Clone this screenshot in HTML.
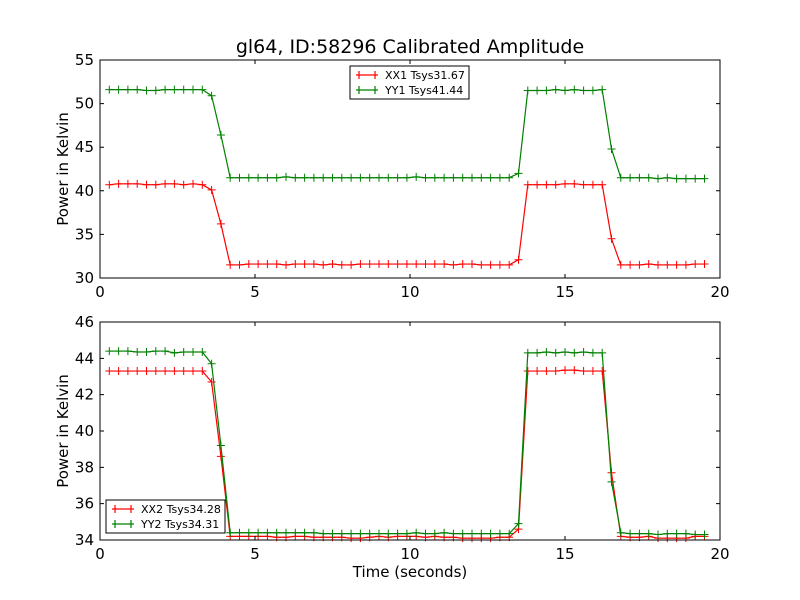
<!DOCTYPE html>
<html><head><meta charset="utf-8"><style>
body{margin:0;background:#fff;}
svg{display:block;font-family:"DejaVu Sans","Liberation Sans",sans-serif;}
</style></head><body>
<svg id="chart" width="800" height="600"></svg>
<script>
const times=[0.3,0.6,0.9,1.2,1.5,1.8,2.1,2.4,2.7,3.0,3.3,3.6,3.9,4.2,4.5,4.8,5.1,5.4,5.7,6.0,6.3,6.6,6.9,7.2,7.5,7.8,8.1,8.4,8.7,9.0,9.3,9.6,9.9,10.2,10.5,10.8,11.1,11.4,11.7,12.0,12.3,12.6,12.9,13.2,13.5,13.8,14.1,14.4,14.7,15.0,15.3,15.6,15.9,16.2,16.5,16.8,17.1,17.4,17.7,18.0,18.3,18.6,18.9,19.2,19.5];
const xx1=[40.7,40.8,40.8,40.8,40.7,40.7,40.8,40.8,40.7,40.8,40.7,40.1,36.2,31.5,31.5,31.6,31.6,31.6,31.6,31.5,31.6,31.6,31.6,31.5,31.6,31.5,31.5,31.6,31.6,31.6,31.6,31.6,31.6,31.6,31.6,31.6,31.6,31.5,31.6,31.6,31.5,31.5,31.5,31.5,32.1,40.7,40.7,40.7,40.7,40.8,40.8,40.7,40.7,40.7,34.5,31.5,31.5,31.5,31.6,31.5,31.5,31.5,31.5,31.6,31.6];
const yy1=[51.6,51.6,51.6,51.6,51.5,51.5,51.6,51.6,51.6,51.6,51.6,50.9,46.4,41.5,41.5,41.5,41.5,41.5,41.5,41.6,41.5,41.5,41.5,41.5,41.5,41.5,41.5,41.5,41.5,41.5,41.5,41.5,41.5,41.6,41.5,41.5,41.5,41.5,41.5,41.5,41.5,41.5,41.5,41.5,42.0,51.5,51.5,51.5,51.6,51.5,51.6,51.5,51.5,51.6,44.8,41.5,41.5,41.5,41.5,41.4,41.5,41.4,41.4,41.4,41.4];
const xx2=[43.3,43.3,43.3,43.3,43.3,43.3,43.3,43.3,43.3,43.3,43.3,42.7,38.6,34.2,34.2,34.2,34.2,34.2,34.15,34.15,34.2,34.2,34.15,34.15,34.15,34.15,34.1,34.1,34.15,34.2,34.15,34.2,34.2,34.2,34.15,34.2,34.15,34.15,34.1,34.1,34.1,34.1,34.15,34.15,34.6,43.3,43.3,43.3,43.3,43.35,43.35,43.3,43.3,43.3,37.7,34.2,34.15,34.15,34.2,34.1,34.1,34.1,34.1,34.2,34.2];
const yy2=[44.4,44.4,44.4,44.35,44.35,44.4,44.4,44.3,44.35,44.35,44.35,43.7,39.2,34.4,34.4,34.4,34.4,34.4,34.4,34.4,34.4,34.4,34.4,34.35,34.35,34.35,34.35,34.35,34.35,34.35,34.35,34.35,34.35,34.4,34.35,34.35,34.4,34.35,34.35,34.35,34.35,34.35,34.35,34.35,34.9,44.3,44.3,44.35,44.3,44.35,44.3,44.35,44.3,44.3,37.2,34.4,34.35,34.35,34.35,34.3,34.35,34.35,34.35,34.3,34.3];
const xTicks=[0,5,10,15,20];
const topYTicks=[30,35,40,45,50,55];
const botYTicks=[34,36,38,40,42,44,46];
const topLegend=["XX1 Tsys31.67","YY1 Tsys41.44"];
const botLegend=["XX2 Tsys34.28","YY2 Tsys34.31"];

const NS="http://www.w3.org/2000/svg";
const svg=document.getElementById('chart');
function mk(tag,attrs,parent){const e=document.createElementNS(NS,tag);for(const k in attrs)e.setAttribute(k,attrs[k]);(parent||svg).appendChild(e);return e;}

function panel(name,top,bot,ymin,ymax,yTicks,series,legend,legPos,showXLabel){
  const L=100,R=720;
  const g=mk('g',{});
  
  
  const xs=v=>L+(v-0)/(20-0)*(R-L);
  const ys=v=>bot-(v-ymin)/(ymax-ymin)*(bot-top);
  series.forEach(s=>{
    const pts=times.map((t,i)=>xs(t).toFixed(2)+','+ys(s.vals[i]).toFixed(2)).join(' ');
    const ln=mk('polyline',{points:pts,fill:'none',stroke:s.color,'stroke-width':1.2},g);
    
    
    times.forEach((t,i)=>{
      const x=xs(t),y=ys(s.vals[i]);
      const m=mk('path',{d:`M${x-4},${y}H${x+4}M${x},${y-4}V${y+4}`,stroke:s.color,'stroke-width':1},g);
      
      
    });
  });
  const fr=mk('rect',{x:L,y:top,width:R-L,height:bot-top,fill:'none',stroke:'#000','stroke-width':1},g);
  
  
  xTicks.forEach(v=>{
    const x=xs(v);
    mk('path',{d:`M${x},${bot}v-4M${x},${top}v4`,stroke:'#000'},g);
    const t=mk('text',{x:x,y:bot+19,'text-anchor':'middle','font-size':15},g);
    t.textContent=v;
    
    
  });
  yTicks.forEach(v=>{
    const y=ys(v);
    mk('path',{d:`M${L},${y}h4M${R},${y}h-4`,stroke:'#000'},g);
    const t=mk('text',{x:L-6,y:y+5,'text-anchor':'end','font-size':15},g);
    t.textContent=v;
    
    
  });
  const yt=mk('text',{x:0,y:0,'text-anchor':'middle','font-size':15,transform:`translate(68,${(top+bot)/2}) rotate(-90)`},g);
  yt.textContent='Power in Kelvin';
  
  
  if(showXLabel){
    const xt=mk('text',{x:(L+R)/2,y:bot+37,'text-anchor':'middle','font-size':15},g);
    xt.textContent='Time (seconds)';
    
    
  }
  const lg=mk('g',{},g);
  
  
  mk('rect',{x:legPos[0],y:legPos[1],width:119,height:33,fill:'#fff',stroke:'#000','stroke-width':1},lg);
  series.forEach((s,i)=>{
    const y=legPos[1]+9+i*15;
    const lx=legPos[0]+6;
    mk('path',{d:`M${lx},${y}h22M${lx+3},${y-4}v8M${lx+19},${y-4}v8`,stroke:s.color,'stroke-width':1.2},lg);
    const t=mk('text',{x:lx+29,y:y+4,'font-size':11},lg);
    t.textContent=legend[i];
    
    
  });
}
const title=mk('text',{x:410,y:53,'text-anchor':'middle','font-size':19});
title.textContent='gl64, ID:58296 Calibrated Amplitude';


panel('top-panel',60,278,30,55,topYTicks,[{name:'xx1',color:'#ff0000',vals:xx1},{name:'yy1',color:'#008000',vals:yy1}],topLegend,[350,66],false);
panel('bottom-panel',322,540,34,46,botYTicks,[{name:'xx2',color:'#ff0000',vals:xx2},{name:'yy2',color:'#008000',vals:yy2}],botLegend,[106,500],true);
</script>
</body></html>
